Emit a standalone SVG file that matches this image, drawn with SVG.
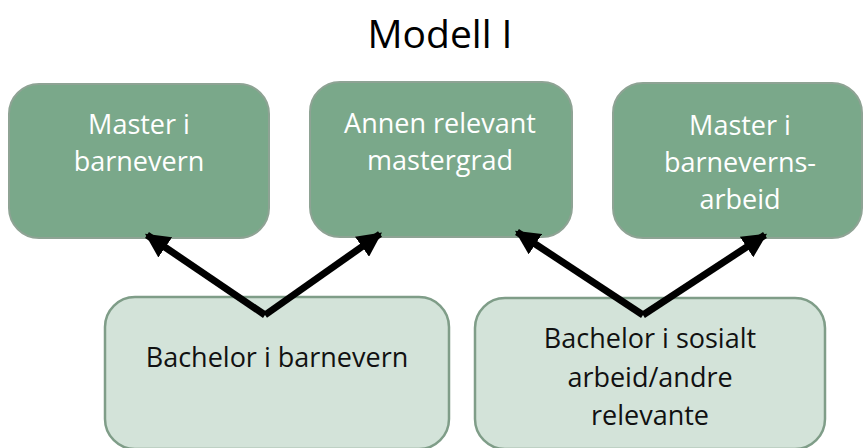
<svg xmlns="http://www.w3.org/2000/svg" width="864" height="448" viewBox="0 0 864 448">
<style>
text{font-family:"Open Sans","Liberation Sans",Arial,sans-serif;text-anchor:middle}
.top rect{fill:#7aa88a;stroke:#8ea394;stroke-width:2}
.top text{fill:#ffffff;font-size:27px}
.bot rect{fill:#d3e3d9;stroke:#7f9d88;stroke-width:2.5}
.bot text{fill:#111111;font-size:27px}
.title{font-size:39px;fill:#000}
.conn line{stroke:#000;stroke-width:7}
</style>
<defs>
<marker id="ah" viewBox="0 0 10 10" refX="9" refY="5" markerWidth="3.5" markerHeight="3.5" orient="auto" markerUnits="strokeWidth">
<path d="M0,0 L10,5 L0,10 z" fill="#000"/>
</marker>
</defs>
<rect width="864" height="448" fill="#fff"/>
<text class="title" x="440" y="48">Modell I</text>
<g id="n1" class="top"><rect x="9" y="84" width="260" height="154" rx="30"/><text x="139" y="134">Master i</text><text x="139" y="171">barnevern</text></g>
<g id="n2" class="top"><rect x="310" y="82" width="262" height="155" rx="30"/><text x="440" y="133">Annen relevant</text><text x="440" y="170">mastergrad</text></g>
<g id="n3" class="top"><rect x="613" y="83" width="249" height="155" rx="30"/><text x="740" y="135">Master i</text><text x="740" y="172">barneverns-</text><text x="740" y="209">arbeid</text></g>
<g id="n4" class="bot"><rect x="105" y="297" width="344" height="152" rx="30"/><text x="277" y="367">Bachelor i barnevern</text></g>
<g id="n5" class="bot"><rect x="475" y="298" width="350" height="151" rx="30"/><text x="650" y="348">Bachelor i sosialt</text><text x="650" y="387">arbeid/andre</text><text x="650" y="425">relevante</text></g>
<g id="connectors" class="conn">
<line x1="265" y1="315" x2="147" y2="235" marker-end="url(#ah)"/>
<line x1="265" y1="315" x2="380" y2="234" marker-end="url(#ah)"/>
<line x1="643" y1="315" x2="517" y2="232" marker-end="url(#ah)"/>
<line x1="643" y1="315" x2="765" y2="235" marker-end="url(#ah)"/>
</g>
</svg>
